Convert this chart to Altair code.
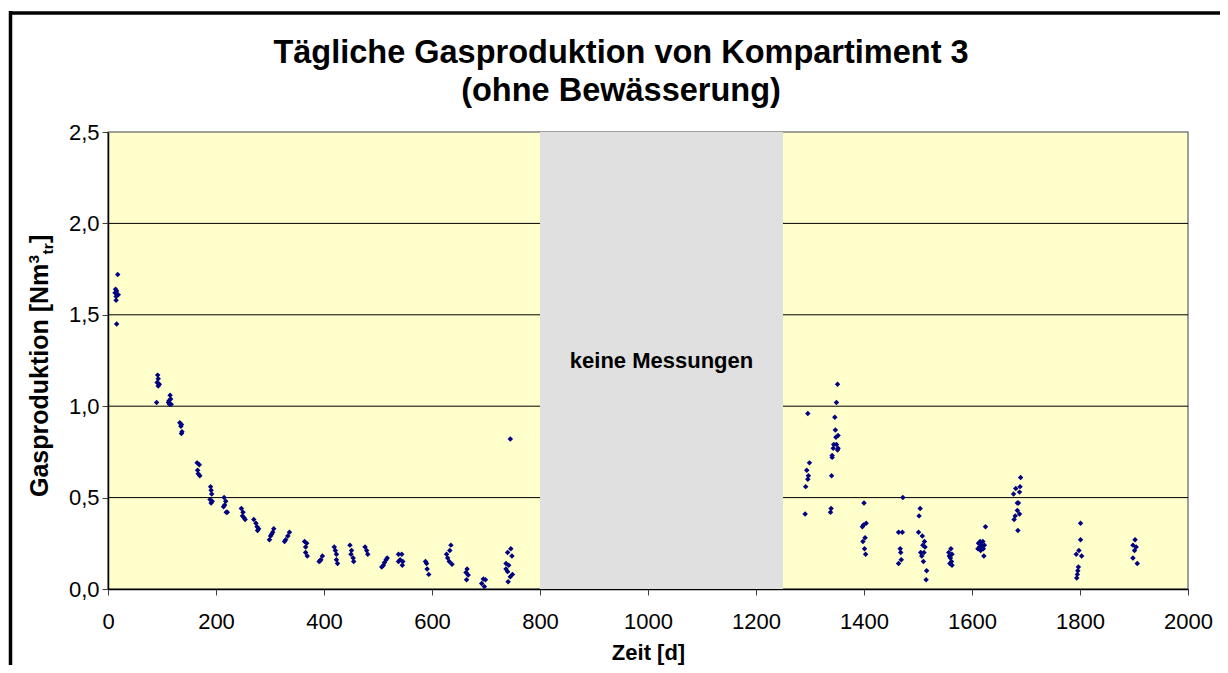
import altair as alt
import pandas as pd

# ---------------- data ----------------
zeit = [
    18, 14, 16, 13, 19, 15, 15, 16,
    92, 93, 91, 95, 93, 90,
    115, 116, 113, 112, 117, 114,
    133, 136, 135, 137, 136,
    165, 169, 166, 167, 170,
    190, 191, 192, 189, 193, 191,
    215, 218, 216, 214, 219, 221,
    247, 250, 249, 252, 254,
    270, 274, 276, 279, 277,
    307, 305, 301, 299, 303,
    336, 333, 329, 327,
    364, 368, 366, 366, 369,
    391, 394, 397, 393,
    419, 421, 423, 423, 425,
    448, 451, 450, 454, 455,
    476, 479, 481,
    507, 510, 512, 515, 517,
    538, 544, 541, 546, 538, 545,
    588, 590, 591, 594,
    635, 633, 627, 629, 632, 637,
    665, 663, 667, 664,
    695, 699, 692, 697,
    745, 746, 740, 748, 737, 742, 737, 740, 749, 745, 741,
    1296, 1299, 1294, 1297, 1296, 1292, 1291,
    1351, 1349, 1346, 1347, 1352, 1348, 1344, 1349, 1343, 1352, 1351, 1341, 1341, 1340, 1339, 1338,
    1400, 1404, 1399, 1397, 1402, 1398, 1401, 1403,
    1472, 1464, 1471, 1467, 1468, 1469, 1464,
    1504, 1502, 1501, 1508, 1512, 1509, 1513, 1505, 1511, 1507, 1510, 1516, 1515,
    1561, 1557, 1563, 1558, 1560, 1562, 1559, 1563,
    1625, 1615, 1620, 1612, 1618, 1623, 1614, 1621, 1616, 1611, 1622,
    1690, 1689, 1681, 1688, 1677, 1684, 1686, 1684, 1688, 1680, 1678, 1685,
    1801, 1801, 1798, 1793, 1803, 1797, 1796, 1795, 1794,
    1902, 1898, 1904, 1901, 1898, 1906,
]
gas = [
    1.72, 1.64, 1.63, 1.62, 1.61, 1.60, 1.58, 1.45,
    1.17, 1.15, 1.13, 1.12, 1.11, 1.02,
    1.06, 1.04, 1.03, 1.02, 1.01, 1.01,
    0.91, 0.90, 0.89, 0.86, 0.85,
    0.69, 0.68, 0.65, 0.63, 0.62,
    0.56, 0.54, 0.52, 0.49, 0.48, 0.47,
    0.50, 0.48, 0.46, 0.45, 0.42, 0.42,
    0.44, 0.42, 0.40, 0.39, 0.38,
    0.38, 0.36, 0.34, 0.33, 0.32,
    0.33, 0.31, 0.29, 0.27, 0.30,
    0.31, 0.29, 0.27, 0.26,
    0.26, 0.25, 0.23, 0.20, 0.18,
    0.15, 0.16, 0.18, 0.155,
    0.23, 0.21, 0.19, 0.16, 0.14,
    0.24, 0.21, 0.19, 0.17, 0.15,
    0.23, 0.21, 0.19,
    0.12, 0.13, 0.145, 0.16, 0.17,
    0.19, 0.19, 0.16, 0.15, 0.15, 0.13,
    0.15, 0.14, 0.11, 0.08,
    0.24, 0.21, 0.19, 0.17, 0.15, 0.135,
    0.11, 0.09, 0.077, 0.05,
    0.055, 0.05, 0.03, 0.013,
    0.82, 0.22, 0.20, 0.18, 0.14, 0.13, 0.11, 0.095, 0.08, 0.067, 0.04,
    0.96, 0.69, 0.65, 0.62, 0.60, 0.56, 0.41,
    1.12, 1.02, 0.94, 0.87, 0.84, 0.83, 0.79, 0.79, 0.77, 0.77, 0.76, 0.73, 0.72, 0.62, 0.44, 0.42,
    0.47, 0.36, 0.35, 0.34, 0.28, 0.26, 0.22, 0.19,
    0.50, 0.31, 0.31, 0.22, 0.20, 0.16, 0.14,
    0.44, 0.40, 0.31, 0.29, 0.26, 0.24, 0.23, 0.20, 0.20, 0.18, 0.15, 0.10, 0.05,
    0.22, 0.20, 0.19, 0.18, 0.17, 0.15, 0.14, 0.13,
    0.34, 0.26, 0.26, 0.25, 0.24, 0.24, 0.23, 0.22, 0.21, 0.22, 0.18,
    0.61, 0.56, 0.55, 0.53, 0.52, 0.47, 0.47, 0.43, 0.41, 0.40, 0.38, 0.32,
    0.36, 0.27, 0.21, 0.19, 0.18, 0.12, 0.10, 0.08, 0.06,
    0.27, 0.24, 0.23, 0.21, 0.17, 0.14,
]

band_start = [800]
band_end = [1250]
band_label = ["keine Messungen"]
band_label_x = [1025]
band_label_y = [1.21]

grid_values = [0.5, 1.0, 1.5, 2.0]
x_ticks = list(range(0, 2001, 200))
y_ticks = [0.0, 0.5, 1.0, 1.5, 2.0, 2.5]

title_lines = ["Tägliche Gasproduktion von Kompartiment 3", "(ohne Bewässerung)"]
y_title_parts = ["Gasproduktion [Nm", "3", "tr", "]"]
x_title = "Zeit [d]"

FONT = "Liberation Sans"
W, H = 1080, 457

points_df = pd.DataFrame({"Zeit": zeit, "Gas": gas})
band_df = pd.DataFrame({"start": band_start, "end": band_end})
label_df = pd.DataFrame({"x": band_label_x, "y": band_label_y, "t": band_label})
grid_df = pd.DataFrame({"g": grid_values})
one = pd.DataFrame({"a": [0]})

xs = alt.Scale(domain=[0, 2000], nice=False, zero=False)
ys = alt.Scale(domain=[0, 2.5], nice=False)

xaxis = alt.Axis(values=x_ticks, title=x_title, grid=False, format="d", labelFont=FONT,
                 labelFontSize=22, labelColor="black", titleFont=FONT, titleFontSize=22,
                 titleFontWeight="bold", titleColor="black", domainColor="black",
                 domainWidth=1.5, tickColor="#404040", tickSize=6, labelPadding=16,
                 titlePadding=10, labelFlush=False)
yaxis = alt.Axis(values=y_ticks, title=None, grid=False, labelFont=FONT, labelFontSize=22,
                 labelColor="black", domainColor="black", domainWidth=1.5, tickColor="#404040",
                 tickSize=6, labelPadding=3,
                 labelExpr="replace(format(datum.value, '.1f'), '.', ',')")

grid = alt.Chart(grid_df).mark_rule(color="black", strokeWidth=1).encode(
    y=alt.Y("g:Q", scale=ys, axis=yaxis)
)

band = alt.Chart(band_df).mark_rect(color="#E0E0E0").encode(
    x=alt.X("start:Q", scale=xs, axis=xaxis),
    x2="end:Q",
    y=alt.value(0),
    y2=alt.value(H),
)

band_text = alt.Chart(label_df).mark_text(font=FONT, fontSize=22, fontWeight="bold",
                                          color="black", align="center",
                                          baseline="alphabetic").encode(
    x=alt.X("x:Q", scale=xs, axis=xaxis),
    y=alt.Y("y:Q", scale=ys, axis=yaxis),
    text="t:N",
)

points = alt.Chart(points_df).mark_point(shape="diamond", filled=True, size=30,
                                         color="#000080", opacity=1).encode(
    x=alt.X("Zeit:Q", scale=xs, axis=xaxis),
    y=alt.Y("Gas:Q", scale=ys, axis=yaxis),
)

def text_at(s, x, y, size, weight="bold", angle=0, align="center"):
    kw = dict(font=FONT, fontSize=size, fontWeight=weight, color="black",
              align=align, baseline="alphabetic")
    if angle:
        kw["angle"] = angle
    return alt.Chart(pd.DataFrame({"t": [s]})).mark_text(**kw).encode(
        text="t:N", x=alt.value(x), y=alt.value(y))

# chart title (centred on the outer frame)
title1 = text_at(title_lines[0], 513, -69, 32.5)
title2 = text_at(title_lines[1], 513, -31, 32.5)

# y-axis title with superscript and subscript
y_main = text_at(y_title_parts[0], -60, 365, 25, angle=270, align="left")
y_sup = text_at(y_title_parts[1], -69.5, 131.5, 15.5, angle=270, align="left")
y_sub = text_at(y_title_parts[2], -55.5, 122.5, 15.5, angle=270, align="left")
y_end = text_at(y_title_parts[3], -60, 111, 25, angle=270, align="left")

# outer frame
frame_left = alt.Chart(one).mark_rule(color="black", strokeWidth=3.5).encode(
    x=alt.value(-97.5), y=alt.value(-121), y2=alt.value(700))
frame_top = alt.Chart(one).mark_rule(color="black", strokeWidth=3.5).encode(
    x=alt.value(-99), x2=alt.value(1200), y=alt.value(-119))

chart = alt.layer(
    grid, band, band_text, points,
    title1, title2, y_main, y_sup, y_sub, y_end,
    frame_left, frame_top,
).properties(
    width=W, height=H,
    autosize=alt.AutoSizeParams(type="none"),
    padding={"left": 100, "top": 124, "right": 32, "bottom": 76},
    background="white",
).configure_view(
    fill="#FFFFCC", stroke="#808080", strokeWidth=1.5
)

chart.save("out.html", embed_options={"renderer": "svg", "actions": False})
